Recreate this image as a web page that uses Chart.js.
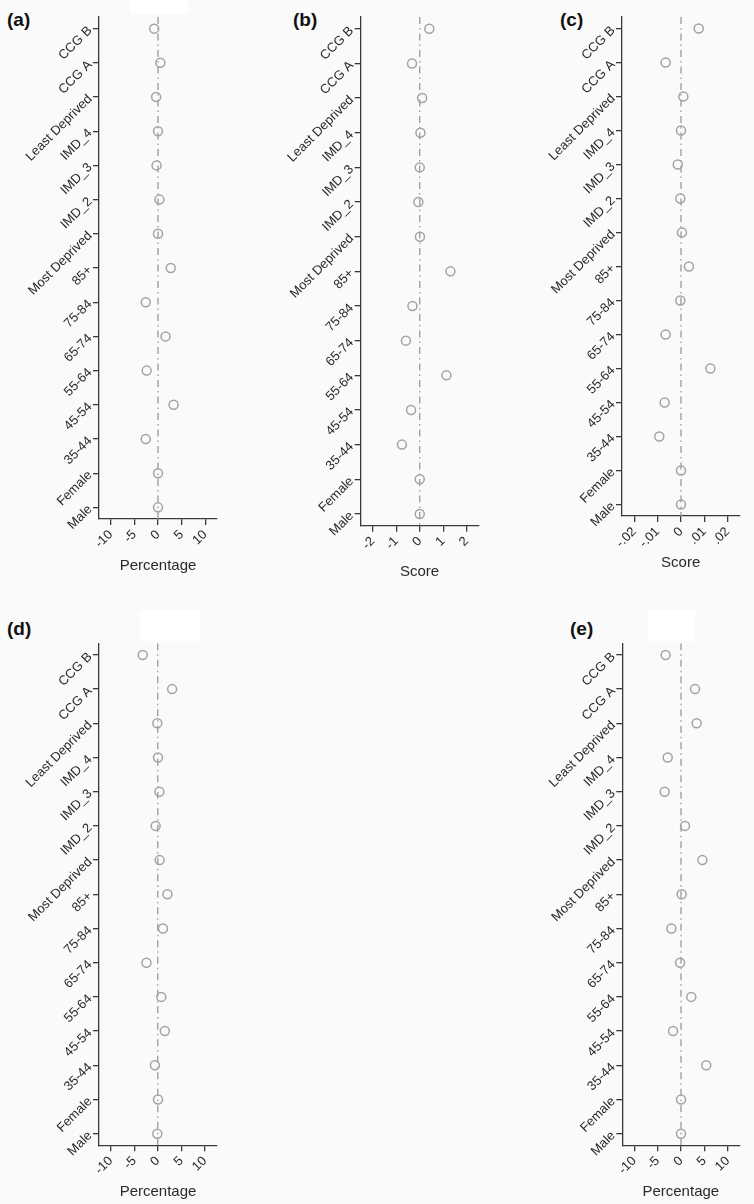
<!DOCTYPE html>
<html>
<head>
<meta charset="utf-8">
<script src="https://cdn.jsdelivr.net/npm/chart.js@4/dist/chart.umd.min.js"></script>
<style>
  html, body { margin: 0; padding: 0; }
  body { width: 754px; height: 1204px; background: #fafafa; position: relative; overflow: hidden;
         font-family: "Liberation Sans", Arial, sans-serif; }
  canvas { position: absolute; }
  .lbl { position: absolute; font-weight: bold; font-size: 19px; line-height: 1; color: #111; }
  .wb { position: absolute; background: #ffffff; }
</style>
</head>
<body>
<div class="wb" style="left:130px;top:0;width:58px;height:14px"></div>
<div class="wb" style="left:140px;top:610px;width:60px;height:31px"></div>
<div class="wb" style="left:648px;top:610px;width:47px;height:31px"></div>

<div class="lbl" style="left:7px;top:10px">(a)</div>
<div class="lbl" style="left:293px;top:10px">(b)</div>
<div class="lbl" style="left:560px;top:10px">(c)</div>
<div class="lbl" style="left:7px;top:619px">(d)</div>
<div class="lbl" style="left:570px;top:619px">(e)</div>

<canvas id="cA" width="250" height="590" style="left:0;top:0"></canvas>
<canvas id="cB" width="250" height="590" style="left:250px;top:0"></canvas>
<canvas id="cC" width="254" height="590" style="left:500px;top:0"></canvas>
<canvas id="cD" width="250" height="604" style="left:0;top:600px"></canvas>
<canvas id="cE" width="254" height="604" style="left:500px;top:600px"></canvas>

<script>
// ---- data ----
const categories = ['CCG B','CCG A','Least Deprived','IMD_4','IMD_3','IMD_2','Most Deprived','85+','75-84','65-74','55-64','45-54','35-44','Female','Male'];

const valuesA = [-0.8, 0.5, -0.4, 0.0, -0.3, 0.3, 0.0, 2.7, -2.6, 1.6, -2.4, 3.3, -2.6, 0.0, 0.0];
const valuesB = [0.41, -0.33, 0.10, 0.03, 0.0, -0.06, 0.01, 1.31, -0.31, -0.59, 1.14, -0.37, -0.76, 0.0, 0.0];
const valuesC = [0.0076, -0.0066, 0.0010, 0.0, -0.0014, -0.0003, 0.0004, 0.0034, -0.0003, -0.0066, 0.0126, -0.0070, -0.0093, 0.0, 0.0];
const valuesD = [-3.2, 3.05, -0.1, 0.05, 0.35, -0.45, 0.4, 2.05, 1.1, -2.4, 0.75, 1.5, -0.6, 0.05, -0.1];
const valuesE = [-3.3, 3.0, 3.35, -2.85, -3.5, 0.85, 4.57, 0.14, -2.07, -0.2, 2.2, -1.7, 5.4, 0.0, 0.0];

const ticksPct = [-10, -5, 0, 5, 10];
const tickLabelsPct = ['-10', '-5', '0', '5', '10'];
const ticksScoreB = [-2, -1, 0, 1, 2];
const tickLabelsScoreB = ['-2', '-1', '0', '1', '2'];
const ticksScoreC = [-0.02, -0.01, 0, 0.01, 0.02];
const tickLabelsScoreC = ['-.02', '-.01', '0', '.01', '.02'];

const titlePct = 'Percentage';
const titleScore = 'Score';

// ---- styling / layout ----
Chart.defaults.font.family = '"Liberation Sans", Arial, sans-serif';
Chart.defaults.color = '#333';

const AXIS = '#3a3a3a';
const MARK = '#a3a3a3';
const REF = '#999999';
const Y_PAD = 0.34;

function makePanel(id, values, xRange, xTicks, xLabels, xTitle, lay) {
  const yMin = -Y_PAD, yMax = categories.length - 1 + Y_PAD;
  new Chart(document.getElementById(id), {
    type: 'scatter',
    data: {
      datasets: [
        {
          type: 'line',
          data: [{x: 0, y: yMin}, {x: 0, y: yMax}],
          borderColor: REF, borderWidth: 1.3, borderDash: [7, 4, 1.5, 4],
          pointRadius: 0, fill: false, order: 2
        },
        {
          data: values.map((v, i) => ({x: v, y: i})),
          pointStyle: 'circle', pointRadius: 4.5, borderWidth: 1.5,
          borderColor: MARK, backgroundColor: 'rgba(0,0,0,0)', order: 1
        }
      ]
    },
    options: {
      responsive: false, animation: false, devicePixelRatio: 1,
      layout: { padding: { top: lay.top, right: lay.right, left: 0, bottom: 0 } },
      plugins: { legend: { display: false }, tooltip: { enabled: false } },
      scales: {
        x: {
          type: 'linear', min: xRange[0], max: xRange[1],
          afterBuildTicks: s => { s.ticks = xTicks.map(v => ({value: v})); },
          afterFit: s => { s.height = lay.xH; },
          ticks: { autoSkip: false, minRotation: 45, maxRotation: 45, padding: 2,
                   font: { size: 13 }, color: '#2a2a2a',
                   callback: (v, i) => xLabels[i] },
          grid: { drawOnChartArea: false, drawTicks: true, tickLength: 6, color: AXIS, lineWidth: 1.3 },
          border: { display: true, color: AXIS, width: 1.3 },
          title: { display: true, text: xTitle, font: { size: 15 }, color: '#2a2a2a',
                   padding: { top: 0, bottom: lay.tPad } }
        },
        y: {
          type: 'linear', min: yMin, max: yMax, reverse: true,
          afterBuildTicks: s => { s.ticks = categories.map((c, i) => ({value: i})); },
          afterFit: s => { s.width = lay.yW; },
          ticks: { autoSkip: false, minRotation: 45, maxRotation: 45, padding: 3,
                   font: { size: 13 }, color: '#2a2a2a',
                   callback: (v) => categories[v] },
          grid: { drawOnChartArea: false, drawTicks: true, tickLength: 6, color: AXIS, lineWidth: 1.3 },
          border: { display: true, color: AXIS, width: 1.3 }
        }
      }
    }
  });
}

makePanel('cA', valuesA, [-12.5, 12.5], ticksPct, tickLabelsPct, titlePct,
          { top: 17, right: 33, yW: 99, xH: 71, tPad: 15.6 });
makePanel('cB', valuesB, [-2.52, 2.5], ticksScoreB, tickLabelsScoreB, titleScore,
          { top: 17, right: 21.7, yW: 110.7, xH: 64.3, tPad: 8.9 });
makePanel('cC', valuesC, [-0.0253, 0.025], ticksScoreC, tickLabelsScoreC, titleScore,
          { top: 17, right: 14.7, yW: 122, xH: 74, tPad: 18.6 });
makePanel('cD', valuesD, [-12.5, 12.6], ticksPct, tickLabelsPct, titlePct,
          { top: 43.3, right: 33, yW: 99, xH: 58.7, tPad: 3.3 });
makePanel('cE', valuesE, [-12.57, 12.48], ticksPct, tickLabelsPct, titlePct,
          { top: 43.3, right: 14.7, yW: 122.3, xH: 58.7, tPad: 3.3 });
</script>
</body>
</html>
